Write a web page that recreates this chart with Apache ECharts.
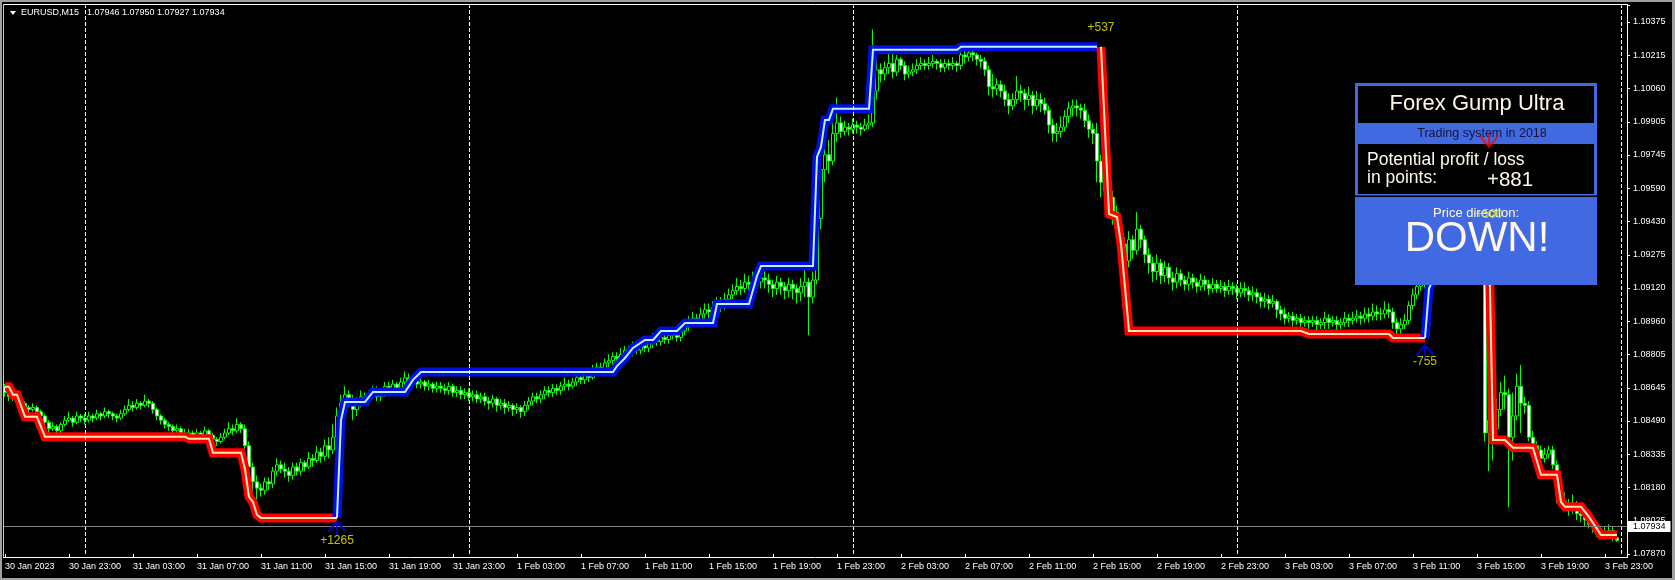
<!DOCTYPE html>
<html><head><meta charset="utf-8">
<script src="https://cdn.jsdelivr.net/npm/echarts@6/dist/echarts.min.js"></script>
<style>html,body{margin:0;padding:0;background:#000;}#c{width:1675px;height:580px;}</style>
</head><body><div id="c"></div>
<script>
// ---- EURUSD M15 bars (each bar opens at the previous close) ----
const firstOpen = 1.0866;
const closes = [
1.0863,1.0861,1.0862,1.0860,1.0858,1.0856,1.0855,1.0856,1.0854,1.0852,
1.0849,1.0846,1.0847,1.0845,1.0848,1.0850,1.0851,1.0849,1.0852,1.0851,
1.0850,1.0852,1.0851,1.0853,1.0852,1.0854,1.0853,1.0852,1.0851,1.0853,
1.0855,1.0857,1.0856,1.0858,1.0857,1.0859,1.0858,1.0855,1.0852,1.0850,
1.0848,1.0847,1.0845,1.0846,1.0844,1.0843,1.0844,1.0842,1.0844,1.0843,
1.0845,1.0843,1.0841,1.0840,1.0842,1.0844,1.0846,1.0845,1.0848,1.0846,
1.0838,1.0828,1.0821,1.0818,1.0817,1.0821,1.0820,1.0826,1.0829,1.0827,
1.0826,1.0824,1.0828,1.0826,1.0830,1.0828,1.0832,1.0831,1.0835,1.0833,
1.0838,1.0836,1.0842,1.0852,1.0858,1.0862,1.0860,1.0855,1.0858,1.0861,
1.0859,1.0862,1.0864,1.0861,1.0863,1.0866,1.0864,1.0867,1.0865,1.0868,
1.0870,1.0868,1.0869,1.0867,1.0868,1.0866,1.0867,1.0865,1.0866,1.0865,
1.0864,1.0866,1.0863,1.0864,1.0862,1.0863,1.0861,1.0862,1.0860,1.0861,
1.0859,1.0858,1.0860,1.0857,1.0858,1.0856,1.0857,1.0855,1.0856,1.0854,
1.0857,1.0859,1.0861,1.0860,1.0862,1.0864,1.0863,1.0865,1.0864,1.0866,
1.0867,1.0866,1.0868,1.0870,1.0869,1.0871,1.0870,1.0873,1.0875,1.0874,
1.0877,1.0878,1.0880,1.0879,1.0881,1.0883,1.0882,1.0884,1.0883,1.0885,
1.0884,1.0886,1.0888,1.0887,1.0889,1.0888,1.0890,1.0891,1.0889,1.0892,
1.0894,1.0896,1.0898,1.0897,1.0900,1.0902,1.0901,1.0903,1.0905,1.0904,
1.0907,1.0909,1.0911,1.0913,1.0912,1.0915,1.0914,1.0916,1.0915,1.0917,
1.0916,1.0914,1.0912,1.0915,1.0913,1.0911,1.0914,1.0912,1.0910,1.0913,
1.0915,1.0908,1.0916,1.0945,1.0968,1.0975,1.0972,1.0985,1.0990,1.0986,
1.0988,1.0987,1.0989,1.0988,1.0987,1.0989,1.0990,1.1005,1.1015,1.1013,
1.1016,1.1018,1.1014,1.1020,1.1017,1.1013,1.1014,1.1015,1.1017,1.1018,
1.1017,1.1018,1.1019,1.1018,1.1016,1.1018,1.1017,1.1018,1.1017,1.1022,
1.1021,1.1023,1.1022,1.1020,1.1019,1.1015,1.1007,1.1006,1.1008,1.1005,
1.1001,1.0998,1.1001,1.1005,1.1004,1.1001,1.1003,1.0998,1.1001,1.0999,
1.0996,1.0989,1.0985,1.0986,1.0988,1.0993,1.0997,1.0998,1.0997,1.0996,
1.0991,1.0987,1.0985,1.0972,1.0962,1.0958,1.0955,1.0948,1.0940,1.0933,
1.0925,1.0935,1.0930,1.0940,1.0935,1.0928,1.0924,1.0920,1.0924,1.0918,
1.0922,1.0917,1.0915,1.0919,1.0916,1.0914,1.0917,1.0915,1.0913,1.0916,
1.0914,1.0912,1.0914,1.0912,1.0913,1.0911,1.0913,1.0912,1.0910,1.0912,
1.0911,1.0909,1.0910,1.0908,1.0906,1.0907,1.0905,1.0906,1.0902,1.0900,
1.0898,1.0899,1.0897,1.0898,1.0896,1.0897,1.0896,1.0897,1.0895,1.0896,
1.0898,1.0896,1.0897,1.0895,1.0896,1.0898,1.0897,1.0898,1.0899,1.0898,
1.0900,1.0899,1.0901,1.0900,1.0900,1.0902,1.0901,1.0896,1.0893,1.0895,
1.0897,1.0904,1.0909,1.0913,1.0915,1.0918,1.0920,1.0918,1.0923,1.0926,
1.0924,1.0928,1.0930,1.0927,1.0931,1.0929,1.0926,1.0930,1.0928,1.0925,
1.0844,1.0850,1.0846,1.0855,1.0863,1.0862,1.0842,1.0852,1.0866,1.0858,
1.0857,1.0842,1.0838,1.0836,1.0832,1.0834,1.0836,1.0829,1.0815,1.0812,
1.0811,1.0808,1.0810,1.0806,1.0805,1.0803,1.0801,1.0800,1.0798,1.0797,
1.0797,1.0798,1.07946,1.07934];
const highs = [
1.0867,1.0864,1.0864,1.0863,1.0861,1.0859,1.0857,1.0858,1.0857,1.0855,
1.0853,1.0850,1.0849,1.0848,1.0849,1.0852,1.0854,1.0852,1.0854,1.0853,
1.0853,1.0854,1.0853,1.0855,1.0854,1.0856,1.0855,1.0854,1.0853,1.0855,
1.0857,1.0860,1.0859,1.0860,1.0859,1.0862,1.0860,1.0859,1.0856,1.0853,
1.0851,1.0849,1.0848,1.0848,1.0847,1.0846,1.0846,1.0845,1.0846,1.0845,
1.0847,1.0846,1.0844,1.0842,1.0844,1.0846,1.0849,1.0848,1.0851,1.0849,
1.0848,1.0840,1.0830,1.0824,1.0820,1.0823,1.0823,1.0828,1.0832,1.0831,
1.0830,1.0828,1.0830,1.0830,1.0832,1.0831,1.0835,1.0834,1.0838,1.0837,
1.0841,1.0842,1.0848,1.0856,1.0862,1.0866,1.0864,1.0862,1.0861,1.0864,
1.0863,1.0864,1.0866,1.0866,1.0865,1.0868,1.0868,1.0869,1.0868,1.0870,
1.0873,1.0872,1.0871,1.0870,1.0870,1.0869,1.0869,1.0868,1.0868,1.0868,
1.0867,1.0868,1.0867,1.0866,1.0866,1.0865,1.0865,1.0864,1.0864,1.0863,
1.0863,1.0861,1.0862,1.0861,1.0860,1.0860,1.0859,1.0858,1.0858,1.0857,
1.0859,1.0861,1.0863,1.0863,1.0864,1.0866,1.0866,1.0867,1.0867,1.0868,
1.0870,1.0869,1.0870,1.0872,1.0872,1.0874,1.0873,1.0876,1.0877,1.0877,
1.0879,1.0881,1.0882,1.0882,1.0884,1.0885,1.0885,1.0887,1.0886,1.0888,
1.0887,1.0888,1.0891,1.0890,1.0891,1.0891,1.0893,1.0894,1.0893,1.0895,
1.0897,1.0899,1.0901,1.0900,1.0903,1.0905,1.0905,1.0906,1.0908,1.0908,
1.0910,1.0912,1.0914,1.0917,1.0916,1.0919,1.0918,1.0920,1.0919,1.0922,
1.0920,1.0919,1.0916,1.0918,1.0917,1.0915,1.0917,1.0916,1.0914,1.0917,
1.0921,1.0917,1.0920,1.0950,1.0972,1.0980,1.0982,1.0998,1.1002,1.0993,
1.0991,1.0990,1.0992,1.0991,1.0990,1.0992,1.0994,1.1034,1.1024,1.1018,
1.1019,1.1024,1.1023,1.1022,1.1021,1.1019,1.1017,1.1018,1.1020,1.1021,
1.1020,1.1021,1.1022,1.1020,1.1020,1.1020,1.1020,1.1021,1.1019,1.1027,
1.1025,1.1026,1.1025,1.1023,1.1022,1.1021,1.1017,1.1013,1.1011,1.1010,
1.1008,1.1004,1.1004,1.1012,1.1008,1.1006,1.1007,1.1005,1.1005,1.1004,
1.1002,1.0998,1.0992,1.0990,1.0993,1.0996,1.1000,1.1001,1.1001,1.0999,
1.0999,1.0994,1.0990,1.0990,1.0975,1.0966,1.0962,1.0958,1.0951,1.0944,
1.0936,1.0939,1.0937,1.0948,1.0942,1.0937,1.0931,1.0927,1.0928,1.0926,
1.0925,1.0924,1.0920,1.0922,1.0921,1.0918,1.0920,1.0919,1.0917,1.0919,
1.0918,1.0916,1.0917,1.0916,1.0916,1.0915,1.0916,1.0915,1.0914,1.0915,
1.0915,1.0913,1.0913,1.0912,1.0910,1.0910,1.0909,1.0909,1.0907,1.0904,
1.0903,1.0901,1.0901,1.0900,1.0900,1.0899,1.0899,1.0899,1.0899,1.0898,
1.0901,1.0900,1.0899,1.0899,1.0898,1.0901,1.0900,1.0901,1.0902,1.0901,
1.0903,1.0903,1.0905,1.0904,1.0903,1.0906,1.0905,1.0903,1.0898,1.0898,
1.0900,1.0906,1.0912,1.0917,1.0919,1.0922,1.0924,1.0923,1.0926,1.0930,
1.0929,1.0931,1.0934,1.0933,1.0935,1.0934,1.0932,1.0934,1.0933,1.0930,
1.0928,1.0868,1.0856,1.0860,1.0868,1.0871,1.0865,1.0863,1.0872,1.0876,
1.0861,1.0859,1.0845,1.0840,1.0838,1.0837,1.0838,1.0838,1.0831,1.0817,
1.0816,1.0813,1.0815,1.0812,1.0808,1.0806,1.0804,1.0803,1.0801,1.0800,
1.0800,1.0801,1.0800,1.07950];
const lows = [
1.0861,1.0859,1.0859,1.0858,1.0856,1.0854,1.0853,1.0854,1.0852,1.0850,
1.0847,1.0844,1.0845,1.0843,1.0844,1.0847,1.0849,1.0847,1.0848,1.0849,
1.0848,1.0849,1.0849,1.0850,1.0850,1.0851,1.0851,1.0850,1.0849,1.0850,
1.0852,1.0854,1.0854,1.0855,1.0855,1.0856,1.0856,1.0853,1.0850,1.0848,
1.0846,1.0845,1.0843,1.0843,1.0842,1.0841,1.0842,1.0840,1.0841,1.0841,
1.0841,1.0841,1.0839,1.0838,1.0839,1.0841,1.0843,1.0843,1.0844,1.0844,
1.0836,1.0826,1.0816,1.0811,1.0814,1.0815,1.0817,1.0818,1.0824,1.0825,
1.0823,1.0821,1.0822,1.0824,1.0824,1.0826,1.0827,1.0828,1.0830,1.0830,
1.0831,1.0832,1.0834,1.0840,1.0848,1.0855,1.0856,1.0850,1.0852,1.0856,
1.0857,1.0857,1.0860,1.0859,1.0859,1.0861,1.0862,1.0862,1.0863,1.0863,
1.0866,1.0866,1.0866,1.0865,1.0865,1.0864,1.0864,1.0863,1.0863,1.0863,
1.0862,1.0862,1.0861,1.0861,1.0860,1.0860,1.0859,1.0859,1.0858,1.0858,
1.0857,1.0855,1.0856,1.0854,1.0855,1.0853,1.0854,1.0852,1.0853,1.0851,
1.0852,1.0855,1.0857,1.0858,1.0858,1.0860,1.0861,1.0861,1.0862,1.0862,
1.0864,1.0864,1.0865,1.0866,1.0867,1.0867,1.0868,1.0869,1.0871,1.0872,
1.0872,1.0875,1.0876,1.0877,1.0877,1.0879,1.0880,1.0880,1.0881,1.0881,
1.0882,1.0882,1.0884,1.0885,1.0885,1.0886,1.0886,1.0888,1.0887,1.0887,
1.0890,1.0892,1.0894,1.0894,1.0895,1.0898,1.0898,1.0899,1.0901,1.0901,
1.0902,1.0905,1.0907,1.0909,1.0909,1.0910,1.0910,1.0912,1.0911,1.0912,
1.0912,1.0910,1.0908,1.0909,1.0909,1.0907,1.0908,1.0907,1.0905,1.0906,
1.0908,1.0890,1.0905,1.0914,1.0940,1.0962,1.0966,1.0970,1.0981,1.0983,
1.0984,1.0984,1.0985,1.0985,1.0984,1.0986,1.0987,1.0988,1.1001,1.1009,
1.1010,1.1013,1.1011,1.1012,1.1015,1.1010,1.1011,1.1012,1.1013,1.1015,
1.1015,1.1015,1.1016,1.1015,1.1014,1.1014,1.1015,1.1015,1.1014,1.1015,
1.1018,1.1019,1.1019,1.1017,1.1016,1.1012,1.1003,1.1002,1.1003,1.1002,
1.0998,1.0994,1.0996,1.0999,1.1000,1.0996,1.0998,1.0994,1.0996,1.0995,
1.0994,1.0985,1.0981,1.0981,1.0983,1.0986,1.0990,1.0993,1.0993,1.0992,
1.0988,1.0983,1.0980,1.0962,1.0955,1.0952,1.0950,1.0942,1.0935,1.0928,
1.0920,1.0922,1.0926,1.0928,1.0931,1.0924,1.0919,1.0915,1.0916,1.0914,
1.0915,1.0914,1.0911,1.0912,1.0913,1.0911,1.0911,1.0912,1.0910,1.0911,
1.0911,1.0909,1.0910,1.0910,1.0910,1.0908,1.0909,1.0909,1.0907,1.0908,
1.0908,1.0906,1.0906,1.0905,1.0903,1.0903,1.0902,1.0903,1.0898,1.0897,
1.0895,1.0896,1.0894,1.0895,1.0893,1.0894,1.0893,1.0894,1.0892,1.0893,
1.0893,1.0893,1.0894,1.0892,1.0893,1.0894,1.0894,1.0895,1.0896,1.0895,
1.0896,1.0896,1.0897,1.0897,1.0897,1.0898,1.0898,1.0893,1.0888,1.0890,
1.0893,1.0895,1.0902,1.0907,1.0911,1.0912,1.0915,1.0915,1.0916,1.0920,
1.0921,1.0922,1.0925,1.0924,1.0925,1.0926,1.0923,1.0924,1.0925,1.0921,
1.0840,1.0826,1.0831,1.0843,1.0852,1.0855,1.0809,1.0831,1.0850,1.0844,
1.0853,1.0840,1.0835,1.0833,1.0830,1.0830,1.0832,1.0827,1.0811,1.0809,
1.0808,1.0805,1.0806,1.0803,1.0802,1.0800,1.0799,1.0797,1.0795,1.0794,
1.0794,1.0795,1.0793,1.07927];

// ---- axis tick labels ----
const xTickLabels = ['30 Jan 2023','30 Jan 23:00','31 Jan 03:00','31 Jan 07:00','31 Jan 11:00','31 Jan 15:00',
 '31 Jan 19:00','31 Jan 23:00','1 Feb 03:00','1 Feb 07:00','1 Feb 11:00','1 Feb 15:00','1 Feb 19:00',
 '1 Feb 23:00','2 Feb 03:00','2 Feb 07:00','2 Feb 11:00','2 Feb 15:00','2 Feb 19:00','2 Feb 23:00',
 '3 Feb 03:00','3 Feb 07:00','3 Feb 11:00','3 Feb 15:00','3 Feb 19:00','3 Feb 23:00'];
const yTickLabels = ['1.07870','1.08025','1.08180','1.08335','1.08490','1.08645','1.08805','1.08960',
 '1.09120','1.09275','1.09430','1.09590','1.09745','1.09905','1.10060','1.10215','1.10375'];

// ---- trailing stop line: [bar index, price] ----
const stopRed1 = [[0,1.08657],[1,1.08657],[2,1.08620],[3,1.08620],[5,1.08516],[8,1.08516],[10,1.08422],
 [45,1.08422],[46,1.08413],[51,1.08413],[52,1.08347],[59,1.08347],[60,1.08270],[61,1.08139],[62,1.08115],
 [63,1.08054],[64,1.08040],[83,1.08040]];
const stopBlue1 = [[83,1.08040],[84,1.08500],[85,1.08586],[90,1.08586],[92,1.08633],[100,1.08633],
 [102,1.08690],[104,1.08727],[152,1.08727],[153,1.08755],[155,1.08793],[157,1.08840],[160,1.08878],
 [162,1.08878],[164,1.08920],[168,1.08920],[170,1.08958],[177,1.08958],[178,1.09047],[186,1.09047],
 [188,1.09179],[189,1.09226],[202,1.09226],[203,1.09740],[204,1.09787],[205,1.09914],[206,1.09914],
 [207,1.09966],[216,1.09966],[217,1.10244],[238,1.10244],[239,1.10258],[273,1.10258]];
const stopRed2 = [[274,1.10258],[276,1.09471],[278,1.09457],[279,1.09330],[281,1.08920],[324,1.08920],
 [326,1.08906],[346,1.08906],[347,1.08887],[355,1.08887]];
const stopBlue2 = [[355,1.08887],[356,1.09120],[358,1.09200],[362,1.09250],[366,1.09300],[370,1.09330]];
const stopRed3 = [[371,1.09350],[372,1.08407],[375,1.08407],[377,1.08370],[382,1.08370],[384,1.08243],
 [388,1.08243],[389,1.08115],[390,1.08092],[394,1.08092],[396,1.08045],[399,1.07960],[403,1.07960]];

// ---- signals ----
const signalIdx = [83, 274, 355, 371];
const signalPrice = [1.07931, 1.10347, 1.08774, 1.09466];
const signalText = ['+1265', '+537', '-755', '+500'];
const buyArrows = [[83, 1.07995], [355, 1.08826]];
const sellArrows = [[371, 1.09815]];
const daySeparators = [20, 116, 212, 308, 404];

// ---- info panel texts ----
const panelTitle = 'Forex Gump Ultra';
const panelSub = 'Trading system in 2018';
const panelLine1 = 'Potential profit / loss';
const panelLine2 = 'in points:';
const panelPoints = '+881';
const panelDirLabel = 'Price direction:';
const panelDir = 'DOWN!';

// ---- build ----
const FONT = '"Liberation Sans", Arial, sans-serif';
const N = closes.length;
const cats = Array.from({length: 406}, (_, i) => String(i));
const ohlc = closes.map((c, i) => [i === 0 ? firstOpen : closes[i - 1], c, lows[i], highs[i]]);
const last = ohlc[N - 1];
const headerVals = [last[0], last[3], last[2], last[1]].map(v => v.toFixed(5)).join(' ');
const yMin = 1.07870, yMax = 1.07870 + 16.5 * (1.10375 - 1.07870) / 16;
const tickInt = (idx) => idx % 16 === 0 && idx / 16 < xTickLabels.length;

function stop(data, color, width, z) {
  return {type: 'line', data: data, showSymbol: false, symbol: 'none', z: z, silent: true,
    lineStyle: {color: color, width: width, cap: 'butt', join: 'miter'}, animation: false};
}
const RED = '#ff0000', RED_C = '#ffe4b4', BLUE = '#0010e0', BLUE_C = '#c0f0ff';

const chart = echarts.init(document.getElementById('c'), null, {renderer: 'canvas'});
chart.setOption({
  backgroundColor: '#000',
  animation: false,
  grid: {left: 3, top: 5.375, width: 1624, height: 548.625, containLabel: false},
  xAxis: {type: 'category', data: cats, boundaryGap: true, offset: 3,
    axisLine: {show: false},
    axisTick: {show: true, alignWithLabel: true, length: 3, interval: tickInt, lineStyle: {color: '#fff'}},
    axisLabel: {show: true, interval: tickInt, formatter: (v, idx) => xTickLabels[idx / 16] || '',
      align: 'left', margin: 5, color: '#fff', fontSize: 9, fontFamily: FONT},
    splitLine: {show: false}},
  yAxis: [
    {type: 'value', min: yMin, max: yMax, show: false, position: 'left'},
    {type: 'value', min: 0, max: 16.5, interval: 1, position: 'right',
      axisLine: {show: false},
      axisTick: {show: true, length: 3, lineStyle: {color: '#fff'}},
      axisLabel: {margin: 6, color: '#fff', fontSize: 9, fontFamily: FONT,
        formatter: v => (Number.isInteger(v) && yTickLabels[v]) ? yTickLabels[v] : ''},
      splitLine: {show: false}}
  ],
  series: [
    {type: 'candlestick', data: ohlc, barWidth: 3, z: 2, silent: true,
      itemStyle: {color: '#000', color0: '#fff', borderColor: '#00ff00', borderColor0: '#00ff00',
        borderColorDoji: '#00ff00', borderWidth: 1},
      markLine: {silent: true, animation: false, symbol: ['none', 'none'], label: {show: false},
        data: daySeparators.map(i => ({xAxis: i, lineStyle: {color: '#fff', width: 1, type: [4, 2]}}))
          .concat([{yAxis: last[1], lineStyle: {color: '#808080', width: 1, type: 'solid'},
            label: {show: true, position: 'end', distance: 1, formatter: last[1].toFixed(5),
              backgroundColor: '#fff', color: '#000', padding: [1, 5, 1, 5], fontSize: 9, lineHeight: 9,
              fontFamily: FONT}}])}},
    stop(stopRed1, RED, 9, 3), stop(stopRed1, RED_C, 2, 4),
    stop(stopBlue1, BLUE, 9, 3), stop(stopBlue1, BLUE_C, 2, 4),
    stop(stopRed2, RED, 9, 3), stop(stopRed2, RED_C, 2, 4),
    stop(stopBlue2, BLUE, 9, 3), stop(stopBlue2, BLUE_C, 2, 4),
    stop(stopRed3, RED, 9, 3), stop(stopRed3, RED_C, 2, 4),
    {type: 'scatter', z: 20, silent: true, symbolSize: 1, itemStyle: {color: 'rgba(0,0,0,0)'},
      data: signalIdx.map((x, k) => [x, signalPrice[k]]),
      label: {show: true, position: 'inside', formatter: p => signalText[p.dataIndex],
        color: '#f0f000', fontSize: 12, fontFamily: FONT}},
    {type: 'scatter', z: 21, silent: true, data: buyArrows, symbolSize: [19, 15],
      symbol: 'path://M10 0L20 12L18.5 13.5L11 4.5L11 16L9 16L9 4.5L1.5 13.5L0 12Z',
      itemStyle: {color: '#0000ff'}},
    {type: 'scatter', z: 21, silent: true, data: sellArrows, symbolSize: [19, 15],
      symbol: 'path://M10 16L20 4L18.5 2.5L11 11.5L11 0L9 0L9 11.5L1.5 2.5L0 4Z',
      itemStyle: {color: '#ff0000'}}
  ],
  graphic: [
    // window frame
    {type: 'rect', z: 50, shape: {x: 0, y: 0, width: 1675, height: 2}, style: {fill: '#a0a0a0'}},
    {type: 'rect', z: 50, shape: {x: 0, y: 0, width: 2, height: 580}, style: {fill: '#a0a0a0'}},
    {type: 'rect', z: 50, shape: {x: 1672, y: 0, width: 3, height: 580}, style: {fill: '#a0a0a0'}},
    {type: 'rect', z: 50, shape: {x: 0, y: 578, width: 1675, height: 2}, style: {fill: '#a0a0a0'}},
    // plot frame
    {type: 'line', z: 30, shape: {x1: 3, y1: 4.5, x2: 1628, y2: 4.5}, style: {stroke: '#fff', lineWidth: 1}},
    {type: 'line', z: 30, shape: {x1: 3.5, y1: 4, x2: 3.5, y2: 558}, style: {stroke: '#c8c8c8', lineWidth: 1}},
    {type: 'line', z: 30, shape: {x1: 1627.5, y1: 4, x2: 1627.5, y2: 558}, style: {stroke: '#fff', lineWidth: 1}},
    {type: 'line', z: 30, shape: {x1: 3, y1: 557.5, x2: 1628, y2: 557.5}, style: {stroke: '#fff', lineWidth: 1}},
    // header
    {type: 'polygon', z: 30, shape: {points: [[10, 11], [16, 11], [13, 15]]}, style: {fill: '#fff'}},
    {type: 'text', z: 30, x: 21, y: 13, style: {text: 'EURUSD,M15', fill: '#fff', font: '9px ' + FONT,
      align: 'left', verticalAlign: 'middle'}},
    {type: 'text', z: 30, x: 87, y: 13, style: {text: headerVals, fill: '#fff', font: '9px ' + FONT,
      align: 'left', verticalAlign: 'middle'}},
    // info panel
    {type: 'rect', z: 10, shape: {x: 1355, y: 83, width: 242, height: 202}, style: {fill: '#4169e1'}},
    {type: 'rect', z: 11, shape: {x: 1358, y: 86, width: 236, height: 37}, style: {fill: '#000'}},
    {type: 'rect', z: 11, shape: {x: 1358, y: 144, width: 236, height: 50}, style: {fill: '#000'}},
    {type: 'rect', z: 11, shape: {x: 1355, y: 195.5, width: 242, height: 1.5}, style: {fill: '#000'}},
    {type: 'text', z: 12, x: 1477, y: 104, style: {text: panelTitle, fill: '#fff8e8', font: '22px ' + FONT,
      align: 'center', verticalAlign: 'middle'}},
    {type: 'text', z: 12, x: 1482, y: 134, style: {text: panelSub, fill: '#141432', font: '12.5px ' + FONT,
      align: 'center', verticalAlign: 'middle'}},
    {type: 'text', z: 12, x: 1367, y: 160, style: {text: panelLine1, fill: '#fff8e8', font: '17.5px ' + FONT,
      align: 'left', verticalAlign: 'middle'}},
    {type: 'text', z: 12, x: 1367, y: 178, style: {text: panelLine2, fill: '#fff8e8', font: '17.5px ' + FONT,
      align: 'left', verticalAlign: 'middle'}},
    {type: 'text', z: 12, x: 1487, y: 180, style: {text: panelPoints, fill: '#fff8e8', font: '20.5px ' + FONT,
      align: 'left', verticalAlign: 'middle'}},
    {type: 'text', z: 12, x: 1476, y: 213, style: {text: panelDirLabel, fill: '#fff8e8', font: '13px ' + FONT,
      align: 'center', verticalAlign: 'middle'}},
    {type: 'text', z: 12, x: 1477, y: 239, style: {text: panelDir, fill: '#fff8e8', font: '42px ' + FONT,
      align: 'center', verticalAlign: 'middle'}}
  ]
});
</script></body></html>
